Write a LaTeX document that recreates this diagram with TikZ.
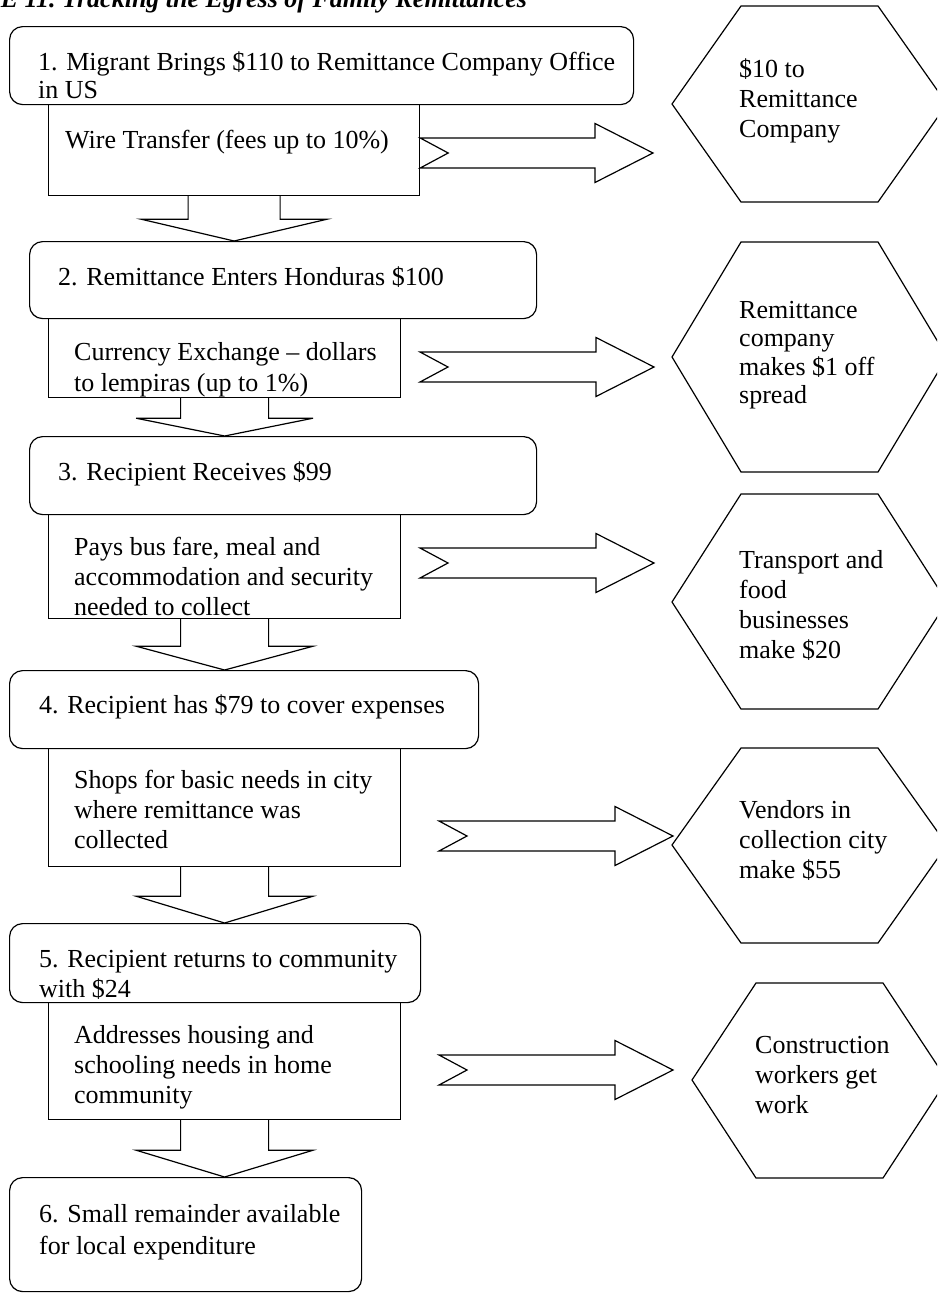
\documentclass[tikz,border=0pt]{standalone}
\usepackage{fontspec}
\setmainfont{Liberation Serif}
\usetikzlibrary{calc}
\newcommand\txtlines[1]{\begin{tabular}[t]{@{}l@{}}#1\end{tabular}}
\newcommand\downblk[5]{%
  \path (#1.south) coordinate (dt) (#1.south |- #2.north) coordinate (dp);
  \draw[blk] ($(dt)+(-#3,0)$) -- ($(dt)+(-#3,#5)$) -- ($(dt)+(-#4,#5)$) -- (dp)
     -- ($(dt)+(#4,#5)$) -- ($(dt)+(#3,#5)$) -- ($(dt)+(#3,0)$);}
\newcommand\rightblk[2]{%
  \draw[blk] ($(#1)+(0,-15)$) -- ($(#2)+(-58,-15)$) -- ($(#2)+(-58,-29.5)$) -- (#2)
     -- ($(#2)+(-58,29.5)$) -- ($(#2)+(-58,15)$) -- ($(#1)+(0,15)$) -- ($(#1)+(28,0)$) -- cycle;}
\tikzset{
  lbl/.style={anchor=base west, inner sep=0pt, font=\fontsize{26}{30}\selectfont},
  stagebox/.style={draw, line width=1.2pt, rounded corners=13pt, anchor=north west, inner sep=0pt},
  actbox/.style={draw, line width=1.2pt, anchor=north west, inner sep=0pt},
  blk/.style={draw, line width=1.2pt, line join=miter},
  hexa/.style={draw, line width=1.2pt, line join=miter},
}
\begin{document}
\begin{tikzpicture}[x=1pt,y=-1pt]
\useasboundingbox (0,0) rectangle (937,1293);
\clip (0,0) rectangle (937,1293);

% title (mostly cut off at the top)
\node[lbl, font=\fontsize{26}{30}\selectfont\bfseries\itshape] (title) at (62,7)
  {\llap{FIGURE 11.\ }Tracking the Egress of Family Remittances};

% stage boxes and action boxes
\node[stagebox, minimum width=624pt, minimum height=78pt] (b1) at (9,26) {};
\node[actbox, minimum width=371pt, minimum height=91pt] (r1) at (48,104) {};
\node[stagebox, minimum width=507pt, minimum height=77pt] (b2) at (29,241) {};
\node[actbox, minimum width=352pt, minimum height=79pt] (r2) at (48,318) {};
\node[stagebox, minimum width=507pt, minimum height=78pt] (b3) at (29,436) {};
\node[actbox, minimum width=352pt, minimum height=104pt] (r3) at (48,514) {};
\node[stagebox, minimum width=469pt, minimum height=78pt] (b4) at (9,670) {};
\node[actbox, minimum width=352pt, minimum height=118pt] (r4) at (48,748) {};
\node[stagebox, minimum width=411pt, minimum height=79pt] (b5) at (9,923) {};
\node[actbox, minimum width=352pt, minimum height=117pt] (r5) at (48,1002) {};
\node[stagebox, minimum width=352pt, minimum height=114pt] (b6) at (9,1177) {};

% texts of the boxes
\node[lbl] (t1) at (38,70) {\txtlines{1. Migrant Brings \$110 to Remittance Company Office\\[-2pt] in US}};
\node[lbl] (t1a) at (65,148) {Wire Transfer (fees up to 10\%)};
\node[lbl] (t2) at (58,285) {2. Remittance Enters Honduras \$100};
\node[lbl] (t2a) at (74,360) {\txtlines{Currency Exchange -- dollars\\[1pt] to lempiras (up to 1\%)}};
\node[lbl] (t3) at (58,480) {3. Recipient Receives \$99};
\node[lbl] (t3a) at (74,555) {\txtlines{Pays bus fare, meal and\\ accommodation and security\\ needed to collect}};
\node[lbl] (t4) at (39,713) {4. Recipient has \$79 to cover expenses};
\node[lbl] (t4a) at (74,788) {\txtlines{Shops for basic needs in city\\ where remittance was\\ collected}};
\node[lbl] (t5) at (39,967) {\txtlines{5. Recipient returns to community\\ with \$24}};
\node[lbl] (t5a) at (74,1043) {\txtlines{Addresses housing and\\ schooling needs in home\\ community}};
\node[lbl] (t6) at (39,1222) {\txtlines{6. Small remainder available\\[2pt] for local expenditure}};

% downward block arrows
\downblk{r1}{b2}{46}{93}{23}
\downblk{r2}{b3}{44}{88.5}{20}
\downblk{r3}{b4}{44}{88.5}{27}
\downblk{r4}{b5}{44}{88.5}{29}
\downblk{r5}{b6}{44}{88.5}{30}

% hexagons
\draw[hexa] (672,104) coordinate (h1) -- (741,6) -- (878,6) -- (947,104) -- (878,202) -- (741,202) -- cycle;
\draw[hexa] (672,357) coordinate (h2) -- (741,242) -- (878,242) -- (947,357) -- (878,472) -- (741,472) -- cycle;
\draw[hexa] (672,602) coordinate (h3) -- (741,494) -- (878,494) -- (947,602) -- (878,709) -- (741,709) -- cycle;
\draw[hexa] (672,845) coordinate (h4) -- (741,748) -- (878,748) -- (947,845) -- (878,943) -- (741,943) -- cycle;
\draw[hexa] (692,1080) coordinate (h5) -- (756,983) -- (883,983) -- (947,1080) -- (883,1178) -- (756,1178) -- cycle;

\node[lbl] (h1t) at (739,77) {\txtlines{\$10 to\\ Remittance\\ Company}};
\node[lbl] (h2t) at (739,318) {\txtlines{Remittance\\[-1.5pt] company\\[-1.5pt] makes \$1 off\\[-1.5pt] spread}};
\node[lbl] (h3t) at (739,568) {\txtlines{Transport and\\ food\\ businesses\\ make \$20}};
\node[lbl] (h4t) at (739,818) {\txtlines{Vendors in\\ collection city\\ make \$55}};
\node[lbl] (h5t) at (755,1053) {\txtlines{Construction\\ workers get\\ work}};

% rightward block arrows
\coordinate (a1s) at (r1.east |- 0,153);  \coordinate (a1e) at (653,153);
\coordinate (a2s) at (420,367);  \coordinate (a2e) at (654,367);
\coordinate (a3s) at (420,563);  \coordinate (a3e) at (654,563);
\coordinate (a4s) at (439,836);  \coordinate (a4e) at (673,836);
\coordinate (a5s) at (439,1070); \coordinate (a5e) at (673,1070);
\rightblk{a1s}{a1e}
\rightblk{a2s}{a2e}
\rightblk{a3s}{a3e}
\rightblk{a4s}{a4e}
\rightblk{a5s}{a5e}
\end{tikzpicture}
\end{document}
